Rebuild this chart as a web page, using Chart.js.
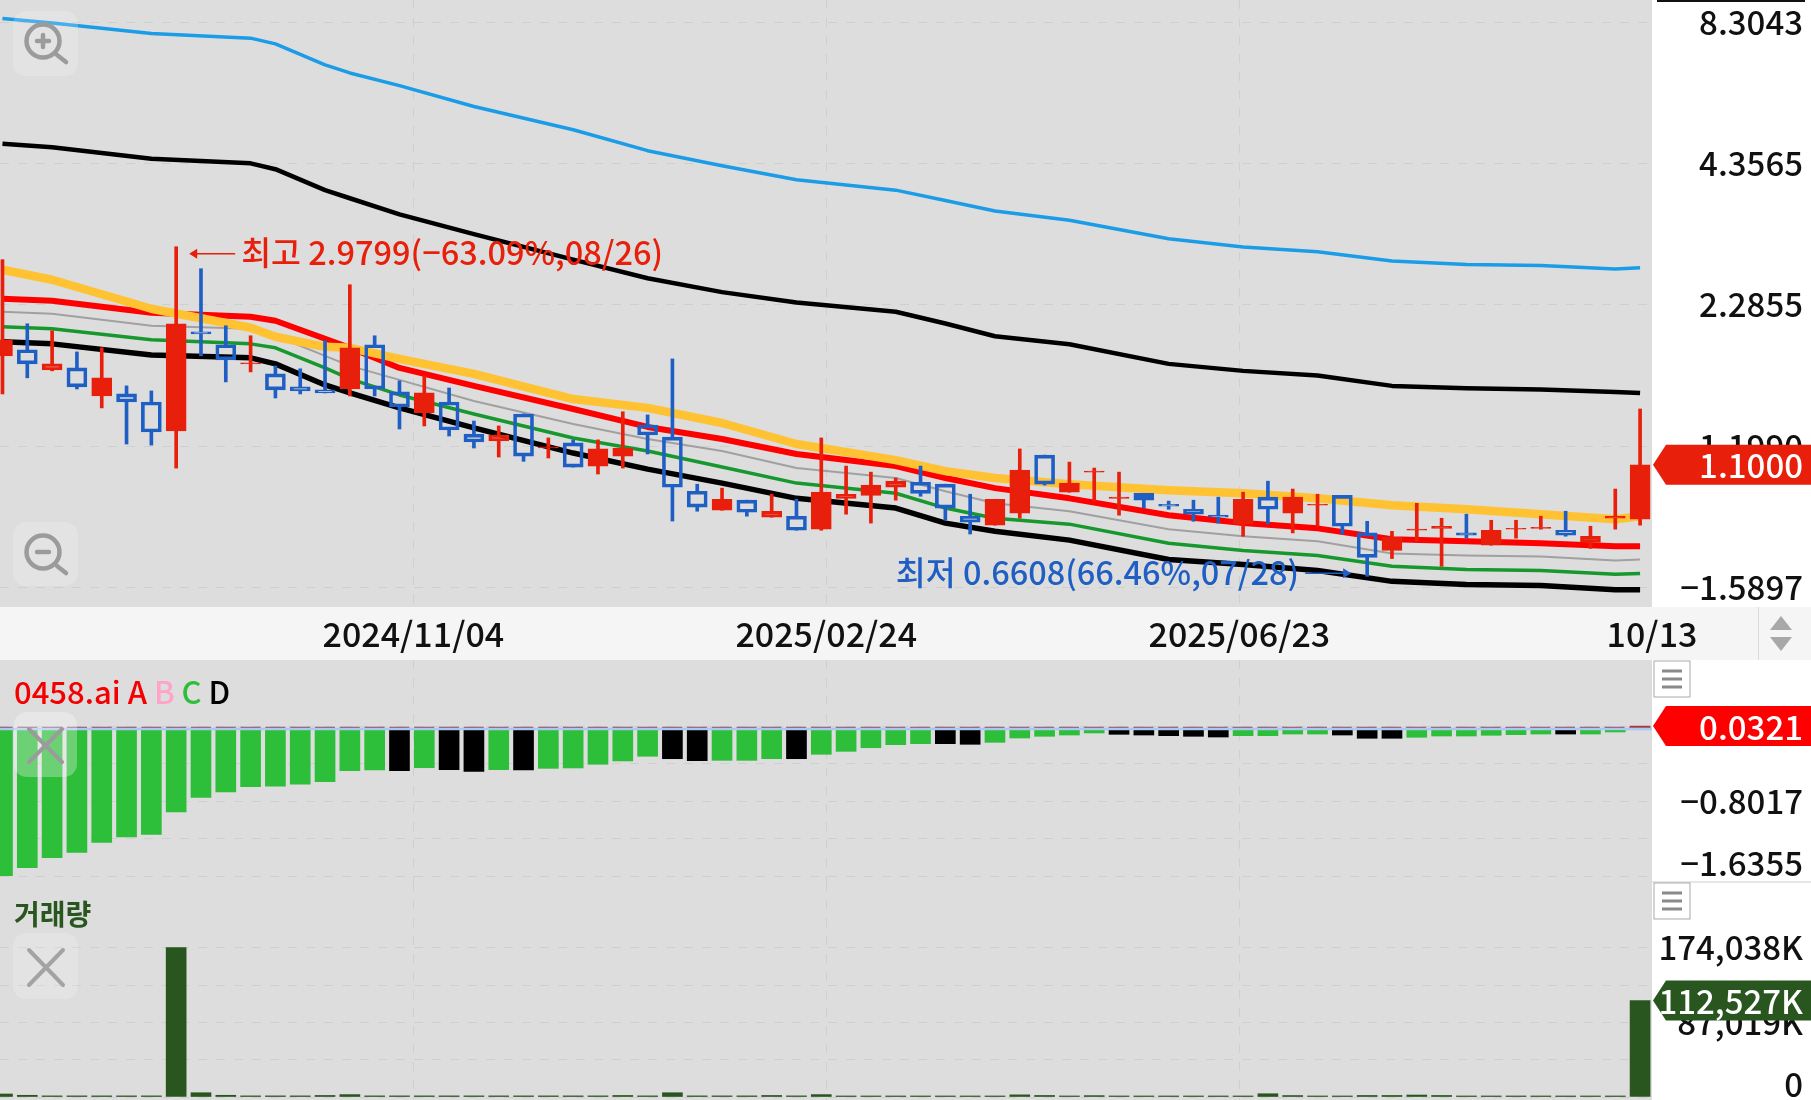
<!DOCTYPE html>
<html>
<head>
<meta charset="utf-8">
<title>0458.ai</title>
<script src="https://cdn.jsdelivr.net/npm/chart.js@4"></script>
<style>
html, body { margin: 0; padding: 0; background: #fff; width: 1811px; height: 1100px; overflow: hidden; }
canvas { position: absolute; left: 0; }
#main_chart { top: 0; }
#hist_chart { top: 660px; }
#vol_chart { top: 882px; }
#date_strip { position: absolute; left: 0; top: 607px; width: 1811px; height: 53px; background: #f5f5f5; }
#overlay { position: absolute; left: 0; top: 0; pointer-events: none; }
</style>
</head>
<body>
<div id="date_strip"></div>
<canvas id="main_chart" width="1811" height="660"></canvas>
<canvas id="hist_chart" width="1811" height="222"></canvas>
<canvas id="vol_chart" width="1811" height="218"></canvas>
<svg id="overlay" width="1811" height="1100">
    <!-- top rule, date strip divider and scroll arrows -->
    <rect x="1657" y="0" width="148" height="2" fill="#111"/>
    <rect x="1758" y="607" width="1" height="53" fill="#dcdcdc"/>
    <polygon points="1781,616 1792,630 1770,630" fill="#a8a8a8"/>
    <polygon points="1770,637 1792,637 1781,651" fill="#a8a8a8"/>
    <rect x="1652" y="881" width="159" height="2" fill="#e6e6e6"/>
    <!-- zoom buttons -->
    <rect x="13" y="11" width="65" height="65" rx="13" fill="#fff" fill-opacity="0.2"/>
    <g stroke="#9b9b9b" stroke-width="4.5" fill="none" stroke-linecap="round">
        <circle cx="43" cy="41" r="16.5"/>
        <path d="M37 41H49M43 35V47M57 55L66 62"/>
    </g>
    <rect x="13" y="522" width="65" height="64" rx="13" fill="#fff" fill-opacity="0.2"/>
    <g stroke="#9b9b9b" stroke-width="4.5" fill="none" stroke-linecap="round">
        <circle cx="43" cy="552" r="16.5"/>
        <path d="M37 552H49M57 566L66 573"/>
    </g>
    <!-- close buttons -->
    <rect x="14" y="712" width="63" height="65" rx="13" fill="#fff" fill-opacity="0.3"/>
    <path d="M29 729L62 762M62 729L29 762" stroke="#9b9b9b" stroke-width="4" stroke-linecap="round"/>
    <rect x="13" y="933" width="65" height="66" rx="13" fill="#fff" fill-opacity="0.2"/>
    <path d="M29 950L63 985M63 950L29 985" stroke="#a3a3a3" stroke-width="4" stroke-linecap="round"/>
    <!-- pane menus -->
    <g stroke="#8a8a8a" stroke-width="3">
        <rect x="1654" y="661" width="36" height="36" fill="#fff" stroke="#a9a9a9" stroke-width="1"/>
        <path d="M1662 671H1682M1662 679H1682M1662 687H1682"/>
        <rect x="1654" y="883" width="36" height="36" fill="#fff" stroke="#a9a9a9" stroke-width="1"/>
        <path d="M1662 893H1682M1662 901H1682M1662 909H1682"/>
    </g>
</svg>
<script>
// weekly candles
const opens = [1.810,1.861,1.698,1.713,1.507,1.521,1.466,1.284,2.020,1.904,1.745,1.667,1.571,1.549,1.556,1.904,1.535,1.396,1.466,1.266,1.227,1.388,1.188,1.216,1.094,1.145,1.320,1.249,0.975,0.894,0.936,0.866,0.870,0.820,0.944,0.957,0.993,1.016,1.007,0.870,0.835,0.882,1.150,0.971,1.064,0.944,0.966,0.919,0.898,0.874,0.839,0.949,0.882,0.915,0.957,0.806,0.744,0.816,0.823,0.806,0.762,0.820,0.823,0.816,0.772,0.862,0.858];
const highs = [2.809,2.096,2.030,1.843,1.878,1.578,1.542,2.980,2.695,2.077,1.984,1.729,1.706,1.940,2.505,1.984,1.615,1.652,1.563,1.344,1.314,1.388,1.244,1.233,1.233,1.402,1.382,1.785,1.007,0.989,0.936,0.962,0.940,1.244,1.094,1.064,1.036,1.094,1.007,0.962,0.940,1.183,1.150,1.114,1.084,1.064,0.966,0.932,0.936,0.949,0.971,1.021,0.985,0.962,0.957,0.850,0.812,0.923,0.862,0.878,0.854,0.854,0.870,0.890,0.831,0.985,1.420];
const lows = [1.521,1.637,1.690,1.556,1.427,1.210,1.204,1.084,1.810,1.607,1.682,1.493,1.521,1.528,1.507,1.507,1.296,1.314,1.255,1.188,1.140,1.118,1.135,1.089,1.055,1.084,1.156,0.851,0.890,0.894,0.870,0.866,0.816,0.816,0.878,0.843,0.936,0.953,0.854,0.802,0.835,0.862,1.003,0.971,0.932,0.874,0.903,0.898,0.850,0.843,0.794,0.839,0.806,0.831,0.802,0.661,0.717,0.776,0.692,0.787,0.762,0.787,0.820,0.794,0.751,0.820,0.835];
const closes = [1.948,1.745,1.745,1.571,1.637,1.466,1.278,2.096,2.002,1.777,1.753,1.549,1.542,1.528,1.878,1.556,1.433,1.528,1.290,1.221,1.261,1.145,1.194,1.089,1.183,1.188,1.261,0.993,0.907,0.940,0.886,0.890,0.816,0.971,0.962,1.003,1.021,0.966,0.903,0.847,0.940,1.074,1.007,1.012,1.069,0.949,0.936,0.911,0.878,0.866,0.940,0.898,0.949,0.919,0.831,0.721,0.790,0.820,0.831,0.798,0.816,0.823,0.827,0.798,0.794,0.870,1.100];

// the average lines bend about once a month, so they are read at the bends
const lineIndex = [0,2,6,10,11,13,14,16,19,23,26,29,32,36,38,40,43,47,50,53,56,59,62,65,66];
const skyLine = [8.457,8.281,7.896,7.728,7.529,6.841,6.592,6.220,5.655,5.085,4.622,4.314,4.048,3.859,3.681,3.508,3.363,3.090,2.977,2.913,2.793,2.749,2.736,2.692,2.707];
const upperBlack = [4.772,4.696,4.454,4.362,4.247,3.859,3.719,3.454,3.156,2.809,2.580,2.422,2.309,2.214,2.099,1.980,1.908,1.745,1.690,1.654,1.578,1.561,1.552,1.535,1.527];
const orangeLine = [2.683,2.563,2.245,2.058,1.975,1.886,1.878,1.785,1.667,1.486,1.427,1.332,1.210,1.124,1.069,1.036,1.007,0.980,0.966,0.944,0.915,0.898,0.878,0.858,0.870];
const redLine = [2.350,2.328,2.204,2.164,2.125,1.957,1.878,1.713,1.578,1.420,1.308,1.238,1.156,1.094,1.036,0.989,0.944,0.874,0.843,0.823,0.783,0.776,0.769,0.758,0.758];
const grayLine = [2.214,2.194,2.077,2.048,1.984,1.810,1.729,1.622,1.473,1.326,1.238,1.172,1.084,1.036,0.975,0.923,0.890,0.820,0.794,0.776,0.734,0.727,0.724,0.711,0.714];
const greenLine = [2.068,2.048,1.948,1.912,1.878,1.713,1.629,1.514,1.388,1.244,1.172,1.089,1.012,0.966,0.903,0.862,0.839,0.769,0.744,0.727,0.692,0.682,0.679,0.667,0.670];
const lowerBlack = [1.930,1.912,1.818,1.794,1.745,1.585,1.528,1.427,1.302,1.161,1.079,1.012,0.944,0.903,0.843,0.812,0.780,0.714,0.698,0.679,0.646,0.637,0.634,0.622,0.622];

const priceTicks = [8.3043,4.3565,2.2855,1.199,0.629];
const priceTickLabels = ['8.3043','4.3565','2.2855','1.1990','−1.5897'];
const dateTicks = [16.56,33.2,49.85,66.48];
const dateTickLabels = ['2024/11/04','2025/02/24','2025/06/23','10/13'];

// 0458.ai oscillator pane
const histValues = [-1.63,-1.54,-1.43,-1.37,-1.26,-1.20,-1.17,-0.92,-0.76,-0.70,-0.64,-0.636,-0.614,-0.585,-0.463,-0.456,-0.463,-0.43,-0.452,-0.47,-0.452,-0.456,-0.437,-0.433,-0.392,-0.355,-0.303,-0.33,-0.352,-0.348,-0.348,-0.33,-0.33,-0.281,-0.248,-0.208,-0.174,-0.163,-0.163,-0.17,-0.148,-0.10,-0.081,-0.067,-0.044,-0.059,-0.067,-0.074,-0.081,-0.089,-0.074,-0.074,-0.056,-0.056,-0.067,-0.103,-0.103,-0.092,-0.078,-0.078,-0.07,-0.063,-0.056,-0.056,-0.056,-0.033,0.0321];
const histBlack = [16,18,19,21,27,28,32,38,39,45,46,47,48,49,54,55,56,63];
const histTicks = [0.0321,-0.3848,-0.8017,-1.2186,-1.6355];
const histTickLabels = ['0.0321','','−0.8017','','−1.6355'];

// volume pane, thousands
const volumes = [3500,2000,1300,1300,1300,1300,1300,174038,5000,2000,1300,1300,1300,1800,2800,1300,1300,1300,1300,1300,1300,1300,1300,1300,1300,1800,1300,5000,1300,1300,1300,1800,1300,2800,1200,1200,1200,1200,1200,1200,1200,2500,1800,1200,1600,1200,1200,1200,1200,1200,1200,3800,1700,1200,1200,1800,1800,2300,1800,1200,1200,1200,1200,1200,1200,1200,112527];
const volTicks = [174038,130528.5,87019,43509.5,0];
const volTickLabels = ['174,038K','','87,019K','','0'];

const FONT = '"Noto Sans CJK KR", "Noto Sans", sans-serif';
const RED = '#e81f0a';
const BLUE = '#1f5fc4';
const GRID = '#cfcfcf';
const AXIS_W = 151;
const X_MIN = -0.1, X_MAX = 66.48;

Chart.defaults.font.family = FONT;
Chart.defaults.animation = false;

const indexLabels = opens.map(function (v, i) { return i; });
const isUp = closes.map(function (c, i) { return c >= opens[i]; });

function linePoints(values) {
    return values.map(function (v, i) { return { x: lineIndex[i], y: v }; });
}

function lineSet(values, color, width, order) {
    return {
        type: 'line', data: linePoints(values), borderColor: color, borderWidth: width,
        pointRadius: 0, tension: 0, order: order, borderJoinStyle: 'round'
    };
}

function xScale(showLabels, height) {
    return {
        type: 'linear', min: X_MIN, max: X_MAX, bounds: 'data', offset: false,
        afterBuildTicks: function (s) { s.ticks = dateTicks.map(function (v) { return { value: v }; }); },
        afterFit: function (s) {
            s.height = height;
            s.paddingLeft = s.paddingRight = s.paddingTop = s.paddingBottom = 0;
        },
        border: { display: false, dash: [9, 9] },
        grid: {
            offset: false, tickLength: 0, drawTicks: false,
            // the last date sits on the pane edge and has no grid line
            color: function (c) { return c.index === dateTicks.length - 1 ? 'rgba(0,0,0,0)' : GRID; }
        },
        ticks: {
            display: showLabels, autoSkip: false, maxRotation: 0, padding: 7, color: '#111',
            font: { size: 34, weight: '500' },
            callback: function (v, i) { return dateTickLabels[i]; }
        }
    };
}

function yScale(type, min, max, ticks, labels) {
    return {
        type: type, position: 'right', min: min, max: max, bounds: 'data',
        afterBuildTicks: function (s) { s.ticks = ticks.map(function (v) { return { value: v }; }); },
        afterFit: function (s) {
            s.width = AXIS_W;
            s.paddingLeft = s.paddingRight = s.paddingTop = s.paddingBottom = 0;
        },
        border: { display: false, dash: [9, 9] },
        grid: { color: GRID, tickLength: 0, drawTicks: false },
        ticks: {
            autoSkip: false, crossAlign: 'far', color: '#111',
            font: { size: 33, weight: '500', lineHeight: 0.76 },
            // a blank second line lifts the lowest label off the pane edge
            callback: function (v, i) {
                return i === labels.length - 1 && type === 'linear' ? [labels[i], ''] : labels[i];
            }
        }
    };
}

// pane background, behind everything the chart draws
const paneBackground = {
    id: 'paneBackground',
    beforeDraw: function (chart) {
        const a = chart.chartArea;
        chart.ctx.fillStyle = '#dddddd';
        chart.ctx.fillRect(a.left, a.top, a.right - a.left, a.bottom - a.top);
    }
};

function drawBadge(chart, yPos, text, color) {
    const ctx = chart.ctx, left = chart.chartArea.right + 1;
    ctx.save();
    ctx.fillStyle = color;
    ctx.beginPath();
    ctx.moveTo(left, yPos);
    ctx.lineTo(left + 13, yPos - 20);
    ctx.lineTo(1811, yPos - 20);
    ctx.lineTo(1811, yPos + 20);
    ctx.lineTo(left + 13, yPos + 20);
    ctx.closePath();
    ctx.fill();
    ctx.fillStyle = '#fff';
    ctx.font = '500 33px ' + FONT;
    ctx.textAlign = 'right';
    ctx.textBaseline = 'middle';
    ctx.fillText(text, 1803, yPos + 1);
    ctx.restore();
}

function badgePlugin(value, text, color) {
    return {
        id: 'badge',
        afterDraw: function (chart) {
            drawBadge(chart, chart.scales.y.getPixelForValue(value), text, color);
        }
    };
}

// high and low callouts, anchored on their candles
const hiLowNotes = {
    id: 'hiLowNotes',
    afterDraw: function (chart) {
        const ctx = chart.ctx, x = chart.scales.x, y = chart.scales.y;
        const hiIdx = highs.indexOf(Math.max.apply(null, highs));
        const loIdx = lows.indexOf(Math.min.apply(null, lows));
        ctx.save();
        ctx.font = '500 32.5px ' + FONT;
        ctx.textBaseline = 'middle';
        ctx.lineWidth = 1.5;

        let px = x.getPixelForValue(hiIdx) + 13, py = y.getPixelForValue(highs[hiIdx]) + 7;
        ctx.fillStyle = ctx.strokeStyle = RED;
        ctx.beginPath(); ctx.moveTo(px + 5, py); ctx.lineTo(px + 46, py); ctx.stroke();
        ctx.beginPath(); ctx.moveTo(px, py); ctx.lineTo(px + 8, py - 5); ctx.lineTo(px + 8, py + 5); ctx.fill();
        ctx.textAlign = 'left';
        ctx.fillText('최고 2.9799(−63.09%,08/26)', px + 52, py - 1);

        px = x.getPixelForValue(loIdx) - 16; py = y.getPixelForValue(lows[loIdx]) - 3;
        ctx.fillStyle = ctx.strokeStyle = BLUE;
        ctx.beginPath(); ctx.moveTo(px - 5, py); ctx.lineTo(px - 46, py); ctx.stroke();
        ctx.beginPath(); ctx.moveTo(px, py); ctx.lineTo(px - 8, py - 5); ctx.lineTo(px - 8, py + 5); ctx.fill();
        ctx.textAlign = 'right';
        ctx.fillText('최저 0.6608(66.46%,07/28)', px - 52, py - 1);
        ctx.restore();
    }
};

const histLegend = {
    id: 'histLegend',
    afterDraw: function (chart) {
        const ctx = chart.ctx;
        const parts = [['0458.ai A ', '#f50000'], ['B ', '#ffa3c9'], ['C ', '#2dbe3a'], ['D', '#000']];
        let x = 14;
        ctx.save();
        ctx.font = '500 31px ' + FONT;
        ctx.textBaseline = 'middle';
        parts.forEach(function (p) {
            ctx.fillStyle = p[1];
            ctx.fillText(p[0], x, 32);
            x += ctx.measureText(p[0]).width;
        });
        ctx.restore();
    }
};

const volLegend = {
    id: 'volLegend',
    afterDraw: function (chart) {
        const ctx = chart.ctx;
        ctx.save();
        ctx.font = '700 28px ' + FONT;
        ctx.textBaseline = 'middle';
        ctx.fillStyle = '#29561f';
        ctx.fillText('거래량', 14, 32);
        ctx.restore();
    }
};

// the right padding keeps the tick labels off the window edge
const sharedOptions = {
    responsive: false,
    maintainAspectRatio: false,
    layout: { padding: { right: 8 } },
    plugins: { legend: { display: false }, tooltip: { enabled: false } }
};

new Chart(document.getElementById('main_chart').getContext('2d'), {
    type: 'bar',
    data: {
        labels: indexLabels,
        datasets: [
            // wick pieces stop at the body so hollow candles stay open
            { data: highs.map(function (h, i) { return [Math.max(opens[i], closes[i]), h]; }), order: 2, barThickness: 3, grouped: false, borderSkipped: false,
              backgroundColor: isUp.map(function (u) { return u ? RED : BLUE; }) },
            { data: lows.map(function (l, i) { return [l, Math.min(opens[i], closes[i])]; }), order: 2, barThickness: 3, grouped: false, borderSkipped: false,
              backgroundColor: isUp.map(function (u) { return u ? RED : BLUE; }) },
            { data: opens.map(function (o, i) { return [o, closes[i]]; }), order: 1, barThickness: 20, grouped: false, borderSkipped: false, borderWidth: 3,
              backgroundColor: isUp.map(function (u) { return u ? RED : 'rgba(0,0,0,0)'; }),
              borderColor: isUp.map(function (u) { return u ? RED : BLUE; }) },
            lineSet(orangeLine, '#ffc233', 8.5, 3),
            lineSet(redLine, '#ff0000', 6, 4),
            lineSet(lowerBlack, '#000000', 5.5, 5),
            lineSet(greenLine, '#17982e', 3.5, 5),
            lineSet(grayLine, '#a0a0a0', 2, 5),
            lineSet(upperBlack, '#000000', 4.5, 5),
            lineSet(skyLine, '#1b9ce6', 3.5, 5)
        ]
    },
    options: Object.assign({}, sharedOptions, {
        scales: {
            x: xScale(true, 53),
            y: yScale('logarithmic', 0.5746, 9.2, priceTicks, priceTickLabels)
        }
    }),
    plugins: [paneBackground, hiLowNotes, badgePlugin(closes[closes.length - 1], '1.1000', RED)]
});

const histColors = histValues.map(function (v, i) {
    if (v > 0) return '#b92b26';
    return histBlack.indexOf(i) >= 0 ? '#000000' : '#2dbe3a';
});

new Chart(document.getElementById('hist_chart').getContext('2d'), {
    type: 'bar',
    data: {
        labels: indexLabels,
        datasets: [
            { data: histValues, backgroundColor: histColors, barThickness: 20, grouped: false, order: 2 },
            // zero line plus the short A dashes sitting over every bar
            { type: 'line', data: [{ x: -0.5, y: 0 }, { x: 67, y: 0 }], borderColor: '#a9c9ee', borderWidth: 2.5, pointRadius: 0, order: 1 },
            { type: 'line', data: [{ x: -0.4, y: 0.018 }, { x: 66.4, y: 0.018 }], borderColor: '#96486a', borderWidth: 1.2, pointRadius: 0, order: 1, borderDash: [20, 4.8] }
        ]
    },
    options: Object.assign({}, sharedOptions, {
        scales: {
            x: xScale(false, 0),
            y: yScale('linear', -1.7, 0.7667, histTicks, histTickLabels)
        }
    }),
    plugins: [paneBackground, histLegend, badgePlugin(histValues[histValues.length - 1], '0.0321', '#ff0000')]
});

new Chart(document.getElementById('vol_chart').getContext('2d'), {
    type: 'bar',
    data: {
        labels: indexLabels,
        datasets: [{ data: volumes, backgroundColor: '#29561f', barThickness: 20, grouped: false }]
    },
    options: Object.assign({}, sharedOptions, {
        scales: {
            x: xScale(false, 0),
            y: yScale('linear', -3497, 250625, volTicks, volTickLabels)
        }
    }),
    plugins: [paneBackground, volLegend, badgePlugin(volumes[volumes.length - 1], '112,527K', '#29561f')]
});
</script>
</body>
</html>
